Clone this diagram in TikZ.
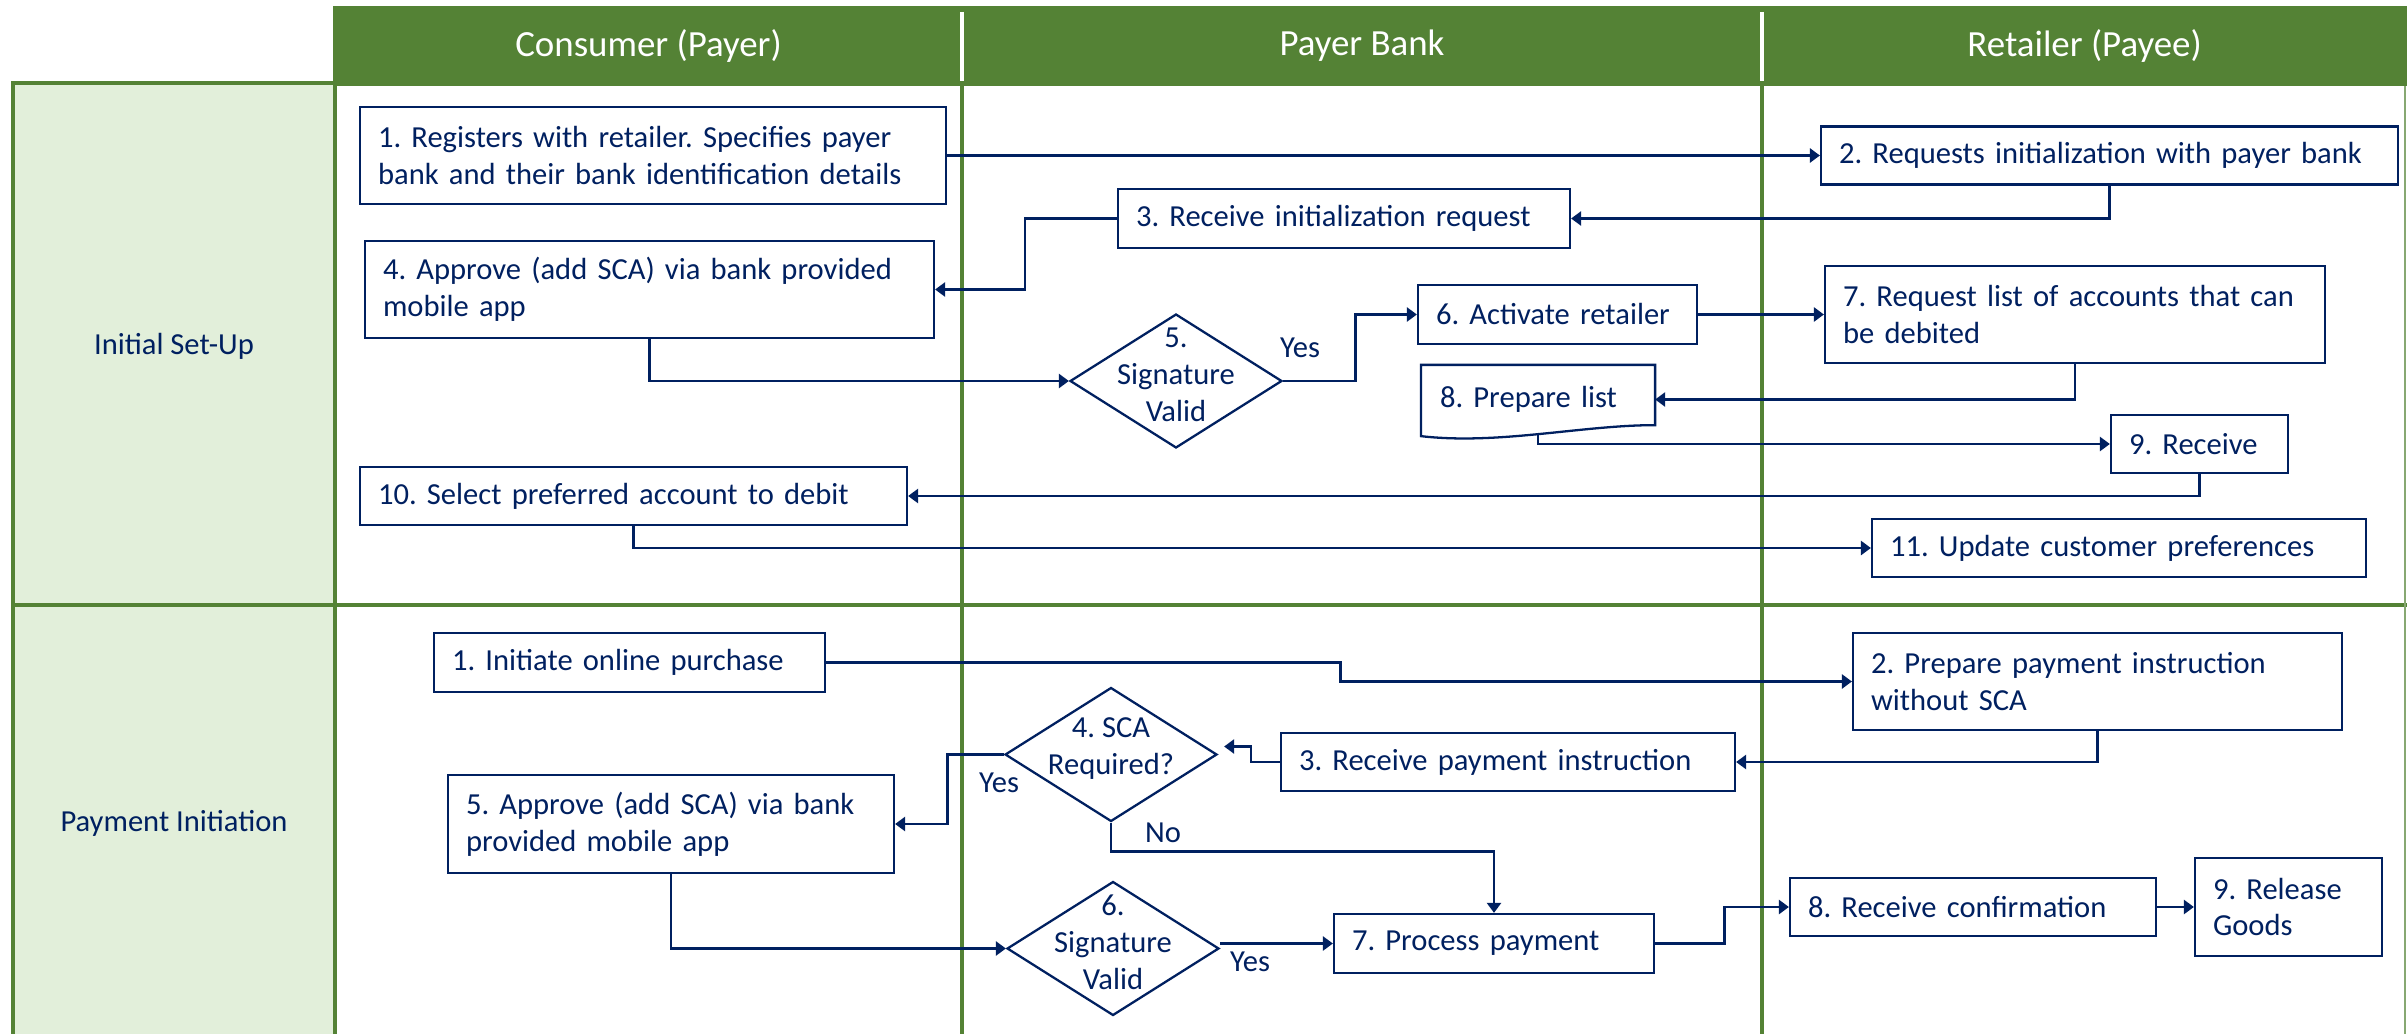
\documentclass[tikz,border=0pt]{standalone}
\usepackage{fontspec}
\setmainfont{Carlito}
\usepackage{tikz}
\usetikzlibrary{shapes.geometric, arrows.meta, positioning, calc}
\definecolor{lanegreen}{HTML}{548235}
\definecolor{lanefill}{HTML}{E2EFDA}
\definecolor{flownavy}{HTML}{002060}
\frenchspacing

\tikzset{
  stepbox/.style={draw=flownavy, line width=1.3pt, fill=white, text=flownavy, align=left,
    inner xsep=0.36cm, inner ysep=0pt, font=\fontsize{17.4}{21}\selectfont},
  decision/.style={diamond, draw=flownavy, line width=1.3pt, fill=white, inner sep=0pt,
    minimum width=4.24cm, minimum height=2.68cm},
  dtext/.style={text=flownavy, align=center, font=\fontsize{17.4}{21}\selectfont, yshift=0.12cm},
  flow/.style={draw=flownavy, line width=1.6pt, -{Triangle[length=0.2cm, width=0.28cm]}},
  lbl/.style={text=flownavy, font=\fontsize{17.4}{21}\selectfont},
  lanehead/.style={text=white, font=\fontsize{21}{25}\selectfont},
  lanename/.style={text=flownavy, font=\fontsize{17.4}{21}\selectfont},
  laneline/.style={draw=lanegreen, line width=2.8pt},
}

\begin{document}
\begin{tikzpicture}[x=0.02cm, y=-0.02cm]
    \useasboundingbox (0,0) rectangle (2407,1034);
    % Background
    \fill[white] (0,0) rectangle (2407,1034);
    % Header bar
    \fill[lanegreen] (333,6) rectangle (2407,86);
    \draw[white, line width=2pt] (962,12) -- (962,81) (1762,12) -- (1762,81);
    % Phase column
    \fill[lanefill] (13,83) rectangle (335,1034);
    \draw[laneline] (13,1034) -- (13,83) -- (335,83) -- (335,1034);
    \draw[laneline] (13,605) -- (2407,605);
    \draw[laneline] (962,86) -- (962,1034);
    \draw[laneline] (1762,86) -- (1762,1034);
    \draw[lanegreen!70, line width=1pt] (2405,86) -- (2405,1034);

    % Lane titles
    \node[lanehead] (hcons) at (648.5,46) {Consumer (Payer)};
    \node[lanehead] (hbank) at (1362,46) {Payer Bank};
    \node[lanehead] (hret) at (2084.5,46) {Retailer (Payee)};
    \node[lanename] (setup) at (174,346) {Initial Set-Up};
    \node[lanename] (payinit) at (174,823) {Payment Initiation};

    % Initial set-up steps
    \node[stepbox, text width=11cm, minimum height=1.94cm] (s1) at (653,155.5)
        {1. Registers with retailer. Specifies payer\\bank and their bank identification details};
    \node[stepbox, text width=10.82cm, minimum height=1.16cm] (s2) at (2109.5,155.5)
        {2. Requests initialization with payer bank};
    \node[stepbox, text width=8.32cm, minimum height=1.18cm] (s3) at (1344,218.5)
        {3. Receive initialization request};
    \node[stepbox, text width=10.66cm, minimum height=1.94cm] (s4) at (649.5,289.5)
        {4. Approve (add SCA) via bank provided\\mobile app};
    \node[decision] (s5) at (1176,381) {};
    \node[dtext] (s5t) at (s5) {5.\\Signature\\Valid};
    \node[stepbox, text width=4.86cm, minimum height=1.18cm] (s6) at (1557.5,314.5)
        {6. Activate retailer};
    \node[stepbox, text width=9.28cm, minimum height=1.94cm] (s7) at (2075,314.5)
        {7. Request list of accounts that can\\be debited};
    \node[stepbox, draw=none, fill=none, text width=3.92cm, minimum height=1.34cm] (s8) at (1538,399.5)
        {8. Prepare list};
    \draw[flownavy, line width=1.3pt] (s8.north west) -- (s8.north east) -- ($(s8.south east)+(0,-9)$)
        .. controls ($(s8.south east)+(-74,-9)$) and ($(s8.south west)+(78,11)$) .. ($(s8.south west)+(0,2)$) -- cycle;
    \node[stepbox, text width=2.82cm, minimum height=1.16cm] (s9) at (2199.5,444)
        {9. Receive};
    \node[stepbox, text width=10.22cm, minimum height=1.16cm] (s10) at (633.5,496)
        {10. Select preferred account to debit};
    \node[stepbox, text width=9.16cm, minimum height=1.16cm] (s11) at (2119,548)
        {11. Update customer preferences};

    % Payment initiation steps
    \node[stepbox, text width=7.1cm, minimum height=1.18cm] (p1) at (629.5,662.5)
        {1. Initiate online purchase};
    \node[stepbox, text width=9.06cm, minimum height=1.94cm] (p2) at (2097.5,681.5)
        {2. Prepare payment instruction\\without SCA};
    \node[stepbox, text width=8.36cm, minimum height=1.16cm] (p3) at (1508,762)
        {3. Receive payment instruction};
    \node[decision] (p4) at (1111,754.5) {};
    \node[dtext] (p4t) at (p4) {4. SCA\\Required?};
    \node[stepbox, text width=8.2cm, minimum height=1.96cm] (p5) at (671,824)
        {5. Approve (add SCA) via bank\\provided mobile app};
    \node[decision] (p6) at (1113,948.5) {};
    \node[dtext] (p6t) at (p6) {6.\\Signature\\Valid};
    \node[stepbox, text width=5.68cm, minimum height=1.18cm] (p7) at (1494,943.5)
        {7. Process payment};
    \node[stepbox, text width=6.6cm, minimum height=1.16cm] (p8) at (1973,907)
        {8. Receive confirmation};
    \node[stepbox, text width=3.02cm, minimum height=1.96cm] (p9) at (2288.5,907)
        {9. Release\\Goods};

    % Initial set-up connectors
    \draw[flow] (s1.east) -- (s2.west);
    \draw[flow] (s2.south) |- (s3.east);
    \draw[flow] (s3.west) -- ++(-92,0) |- (s4.east);
    \draw[flow] (s4.south) |- (s5.west);
    \draw[flow] (s5.east) -- ++(72,0) |- (s6.west);
    \node[lbl] (s5yes) at (1300,348) {Yes};
    \draw[flow] (s6.east) -- (s7.west);
    \draw[flow] (s7.south) |- (s8.east);
    \draw[flow] (s8.south) |- (s9.west);
    \draw[flow] (s9.south) |- (s10.east);
    \draw[flow] (s10.south) |- (s11.west);

    % Payment initiation connectors
    \draw[flow] (p1.east) -- ++(514,0) |- (p2.west);
    \draw[flow] (p2.south) |- (p3.east);
    \draw[flow] (p3.west) -- ++(-29,0) |- ($(p4.east)+(6,-8)$);
    \draw[flow] (p4.west) -- ++(-56,0) |- (p5.east);
    \node[lbl] (p4yes) at (999,783) {Yes};
    \draw[flow] (p4.south) -- ++(0,29) -| (p7.north);
    \node[lbl] (p4no) at (1163,833) {No};
    \draw[flow] (p5.south) |- (p6.west);
    \draw[flow] (p6.east |- p7.west) -- (p7.west);
    \node[lbl] (p6yes) at (1250,962) {Yes};
    \draw[flow] (p7.east) -- ++(69,0) |- (p8.west);
    \draw[flow] (p8.east) -- (p9.west);
\end{tikzpicture}
\end{document}
